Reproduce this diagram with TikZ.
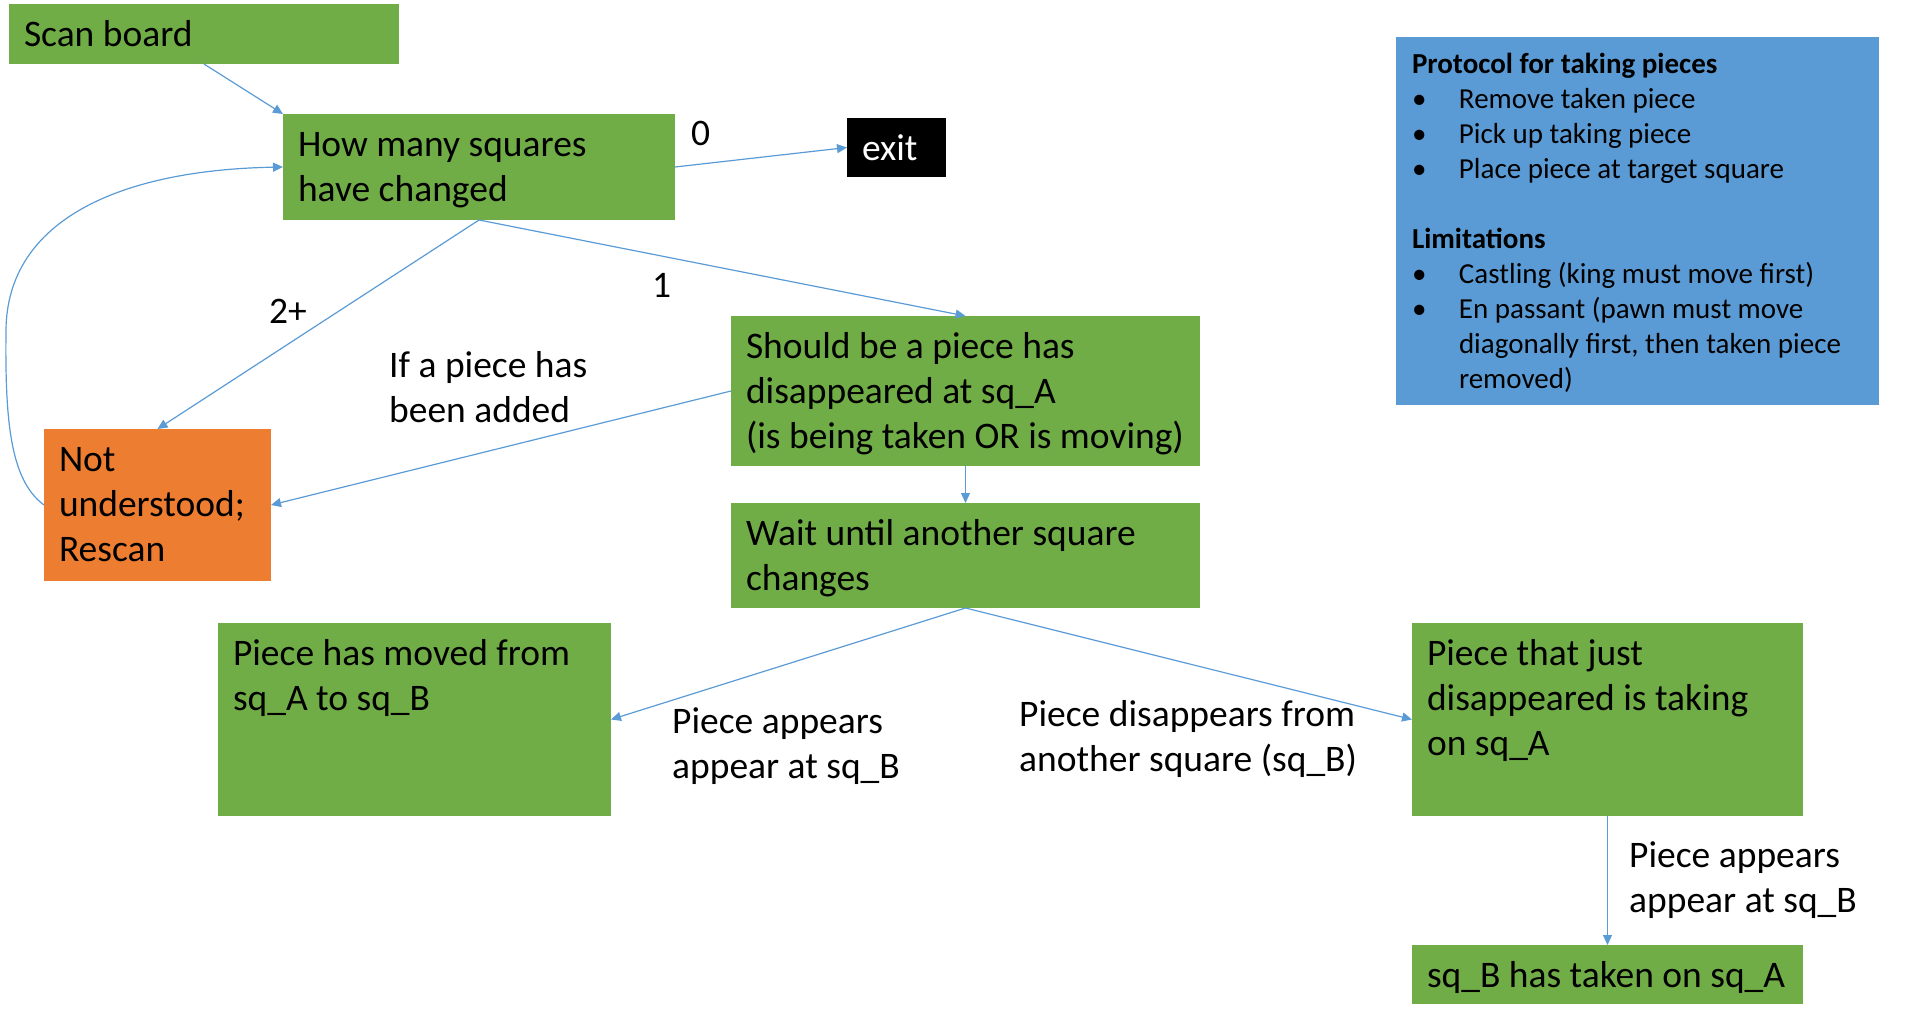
\documentclass[tikz,border=0pt]{standalone}
\usepackage{fontspec}
\setmainfont{Carlito}
\usetikzlibrary{arrows.meta}
\definecolor{pgreen}{HTML}{70AD47}
\definecolor{porange}{HTML}{ED7D31}
\definecolor{pblue}{HTML}{5B9BD5}
\newcommand{\bigfont}{\fontsize{37.5}{45}\selectfont}
\newcommand{\smallfont}{\fontsize{29}{35}\selectfont}
% #1 width, #2 height, #3 text (lines separated by \\)
\newcommand{\boxtxt}[3]{\parbox[t][#2][t]{#1}{\raggedright\rule{0pt}{42pt}#3}}
\newcommand{\bul}{\makebox[47pt][l]{\textbullet}}
\tikzset{
  boxbase/.style={anchor=north west, inner xsep=15pt, inner ysep=0pt, outer sep=0pt, font=\bigfont},
  gbox/.style={boxbase, fill=pgreen, text=black},
  obox/.style={boxbase, fill=porange, text=black},
  kbox/.style={boxbase, fill=black, text=white},
  pbox/.style={anchor=north west, inner xsep=16pt, inner ysep=0pt, outer sep=0pt, fill=pblue, text=black, font=\smallfont},
  lbl/.style={anchor=base west, inner sep=0pt, font=\bigfont, text=black},
  conn/.style={draw=pblue, line width=1.2pt, -{Triangle[length=10pt,width=9pt]}}
}
\begin{document}
\begin{tikzpicture}[x=1pt,y=-1pt]
\useasboundingbox (0,0) rectangle (1924,1020);

% boxes
\node[gbox] (scan) at (9,4) {\boxtxt{360pt}{60pt}{\mbox{Scan board}}};
\node[gbox] (how) at (283,114) {\boxtxt{362pt}{106pt}{\mbox{How many squares}\\\mbox{have changed}}};
\node[kbox] (exit) at (847,118) {\boxtxt{69pt}{59pt}{\mbox{exit}}};
\node[obox] (not) at (44,429) {\boxtxt{197pt}{152pt}{\mbox{Not}\\\mbox{understood;}\\\mbox{Rescan}}};
\node[gbox] (should) at (731,316) {\boxtxt{439pt}{150pt}{\mbox{Should be a piece has}\\\mbox{disappeared at sq\_A}\\\mbox{(is being taken OR is moving)}}};
\node[gbox] (wait) at (731,503) {\boxtxt{439pt}{105pt}{\mbox{Wait until another square}\\\mbox{changes}}};
\node[gbox] (moved) at (218,623) {\boxtxt{363pt}{193pt}{\mbox{Piece has moved from}\\\mbox{sq\_A to sq\_B}}};
\node[gbox] (taking) at (1412,623) {\boxtxt{361pt}{193pt}{\mbox{Piece that just}\\\mbox{disappeared is taking}\\\mbox{on sq\_A}}};
\node[gbox] (sqb) at (1412,945) {\boxtxt{361pt}{59pt}{\mbox{sq\_B has taken on sq\_A}}};

\node[pbox] (proto) at (1396,37) {\parbox[t][368pt][t]{451pt}{\raggedright\rule{0pt}{36pt}%
\mbox{\textbf{Protocol for taking pieces}}\\
\mbox{\bul Remove taken piece}\\
\mbox{\bul Pick up taking piece}\\
\mbox{\bul Place piece at target square}\\
\mbox{}\\
\mbox{\textbf{Limitations}}\\
\mbox{\bul Castling (king must move first)}\\
\mbox{\bul En passant (pawn must move}\\
\mbox{\hspace*{47pt}diagonally first, then taken piece}\\
\mbox{\hspace*{47pt}removed)}}};

% labels
\node[lbl] (l0) at (691,145) {0};
\node[lbl] (l1) at (652,297) {1};
\node[lbl] (l2) at (269,323) {2+};
\node[lbl] (ladd) at (389,377) {\parbox[t]{300pt}{\raggedright If a piece has\\been added}};
\node[lbl] (lapp) at (672,733) {\parbox[t]{300pt}{\raggedright Piece appears\\appear at sq\_B}};
\node[lbl] (ldis) at (1019,726) {\parbox[t]{400pt}{\raggedright Piece disappears from\\another square (sq\_B)}};
\node[lbl] (lapp2) at (1629,867) {\parbox[t]{300pt}{\raggedright Piece appears\\appear at sq\_B}};

% connectors
\draw[conn] (scan.south) -- (how.north west);
\draw[conn] (how.east) -- (exit.west);
\draw[conn] (how.south) -- (not.north);
\draw[conn] (how.south) -- (should.north);
\draw[conn] (should.west) -- (not.east);
\draw[conn] (should.south) -- (wait.north);
\draw[conn] (wait.south) -- (moved.east);
\draw[conn] (wait.south) -- (taking.west);
\draw[conn] (taking.south) -- (sqb.north);
\coordinate (loopmid) at (6,330);
\draw[conn] (not.west) .. controls (10,480) and (5,420) .. (loopmid) .. controls (7,220) and (120,170) .. (how.west);
\end{tikzpicture}
\end{document}
